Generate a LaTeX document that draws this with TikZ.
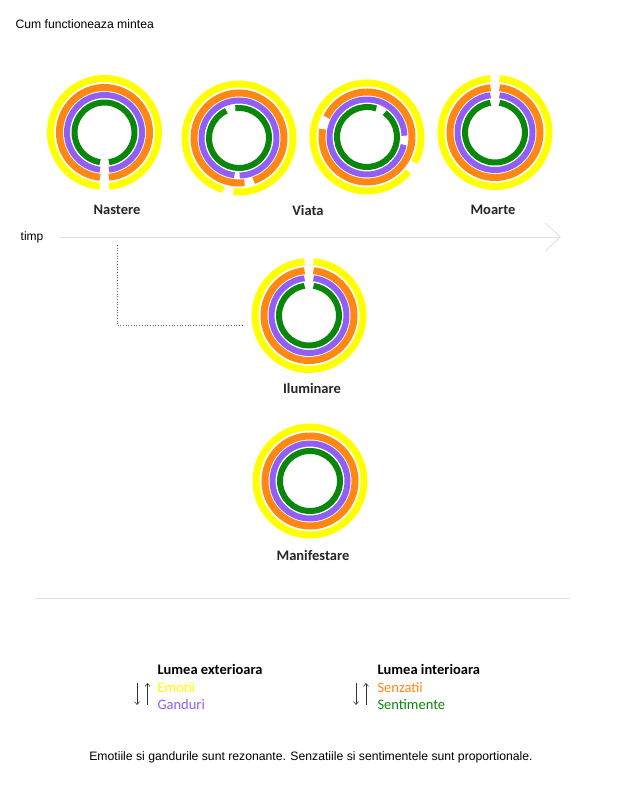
\documentclass[tikz,border=0pt]{standalone}
\usepackage{fontspec}
\setmainfont{Carlito}
\newfontfamily\arialfont{Liberation Sans}
\usetikzlibrary{arrows.meta}
\definecolor{galben}{RGB}{255,255,0}
\definecolor{portocaliu}{RGB}{255,135,20}
\definecolor{mov}{RGB}{145,95,245}
\definecolor{verde}{RGB}{10,135,10}
\tikzset{  emo/.style={draw=galben,line width=7pt},
  senz/.style={draw=portocaliu,line width=7pt},
  gand/.style={draw=mov,line width=6pt},
  sent/.style={draw=verde,line width=6pt},
  eticheta/.style={font=\bfseries\fontsize{14.5}{17}\selectfont,text=black!85},
  legenda/.style={anchor=west,font=\fontsize{14.5}{17}\selectfont},
  sageata/.style={-{Straight Barb[length=3pt,width=5pt]},line width=0.6pt,black!80} }
\newcommand{\inel}[5]{\draw[#2] (#1) ++(#4:#3) arc[start angle=#4,end angle=#5,radius=#3];}

\begin{document}
\begin{tikzpicture}[x=1pt,y=1pt]
   \fill[white] (0,0) rectangle (617,800);
   \useasboundingbox (0,0) rectangle (617,800);
   \node[anchor=west,font=\arialfont\fontsize{12.2}{14}\selectfont] (titlu) at (12,776) {Cum functioneaza mintea};
   \coordinate (nastere) at (104.5,667.5);
   \coordinate (viataA) at (239,662);
   \coordinate (viataB) at (367,663);
   \coordinate (moarte) at (495,667.5);
   \coordinate (iluminare) at (309,484.5);
   \coordinate (manifestare) at (310,319);
   \foreach \s/\r/\d in {emo/54/4.8,senz/45/5.7,gand/37.5/6.9,sent/30/8.6} {
     \inel{nastere}{\s}{\r}{270+\d}{630-\d}
     \inel{moarte}{\s}{\r}{90+\d}{450-\d}
     \inel{iluminare}{\s}{\r}{90+\d}{450-\d}
     \draw[\s] (manifestare) circle[radius=\r];
   }
   \inel{viataA}{emo}{54}{264}{613}
   \inel{viataA}{senz}{45}{289}{637}
   \inel{viataA}{gand}{37.5}{271}{623}
   \inel{viataA}{sent}{30}{115}{457}
   \inel{viataB}{emo}{54}{-28}{320}
   \inel{viataB}{senz}{45}{170}{514}
   \inel{viataB}{gand}{37.5}{2}{348}
   \inel{viataB}{sent}{30}{72}{414}
   \node[eticheta] (lnastere) at (117,590) {Nastere};
   \node[eticheta] (lviata) at (308,590) {Viata};
   \node[eticheta] (lmoarte) at (493,590) {Moarte};
   \node[eticheta] (liluminare) at (312,412) {Iluminare};
   \node[eticheta] (lmanifestare) at (313,245) {Manifestare};
   \node[font=\arialfont\fontsize{12}{14}\selectfont] (timp) at (32,563) {timp};
   \coordinate (tstart) at (60,563);
   \coordinate (tend) at (561,563);
   \draw[black!12,line width=0.8pt,-{Straight Barb[length=15pt,width=28pt]}] (tstart) -- (tend);
   \coordinate (dA) at (117,555);
   \coordinate (dB) at (242,474.5);
   \draw[black!60,dotted,line width=0.7pt] (dA) |- (dB);
   \coordinate (sepA) at (35,202);
   \coordinate (sepB) at (570,202);
   \draw[black!12,line width=0.8pt] (sepA) -- (sepB);
   \node[legenda,font=\bfseries\fontsize{14.5}{17}\selectfont] (lext) at (154,131) {Lumea exterioara};
   \node[legenda,text=galben] (emotii) at (154,112.5) {Emotii};
   \node[legenda,text=mov] (ganduri) at (154,95) {Ganduri};
   \node[legenda,font=\bfseries\fontsize{14.5}{17}\selectfont] (lint) at (374,131) {Lumea interioara};
   \node[legenda,text=portocaliu] (senzatii) at (374,112.5) {Senzatii};
   \node[legenda,text=verde] (sentimente) at (374,95) {Sentimente};
   \coordinate (jA) at (137,117);
   \coordinate (jB) at (137,95);
   \coordinate (sA) at (147.5,95);
   \coordinate (sB) at (147.5,117);
   \draw[sageata] (jA) -- (jB);
   \draw[sageata] (sA) -- (sB);
   \coordinate (jC) at (356,117);
   \coordinate (jD) at (356,95);
   \coordinate (sC) at (366,95);
   \coordinate (sD) at (366,117);
   \draw[sageata] (jC) -- (jD);
   \draw[sageata] (sC) -- (sD);
   \node[font=\arialfont\fontsize{12.2}{14}\selectfont] (nota) at (311,43) {Emotiile si gandurile sunt rezonante. Senzatiile si sentimentele sunt proportionale.};
\end{tikzpicture}
\end{document}
